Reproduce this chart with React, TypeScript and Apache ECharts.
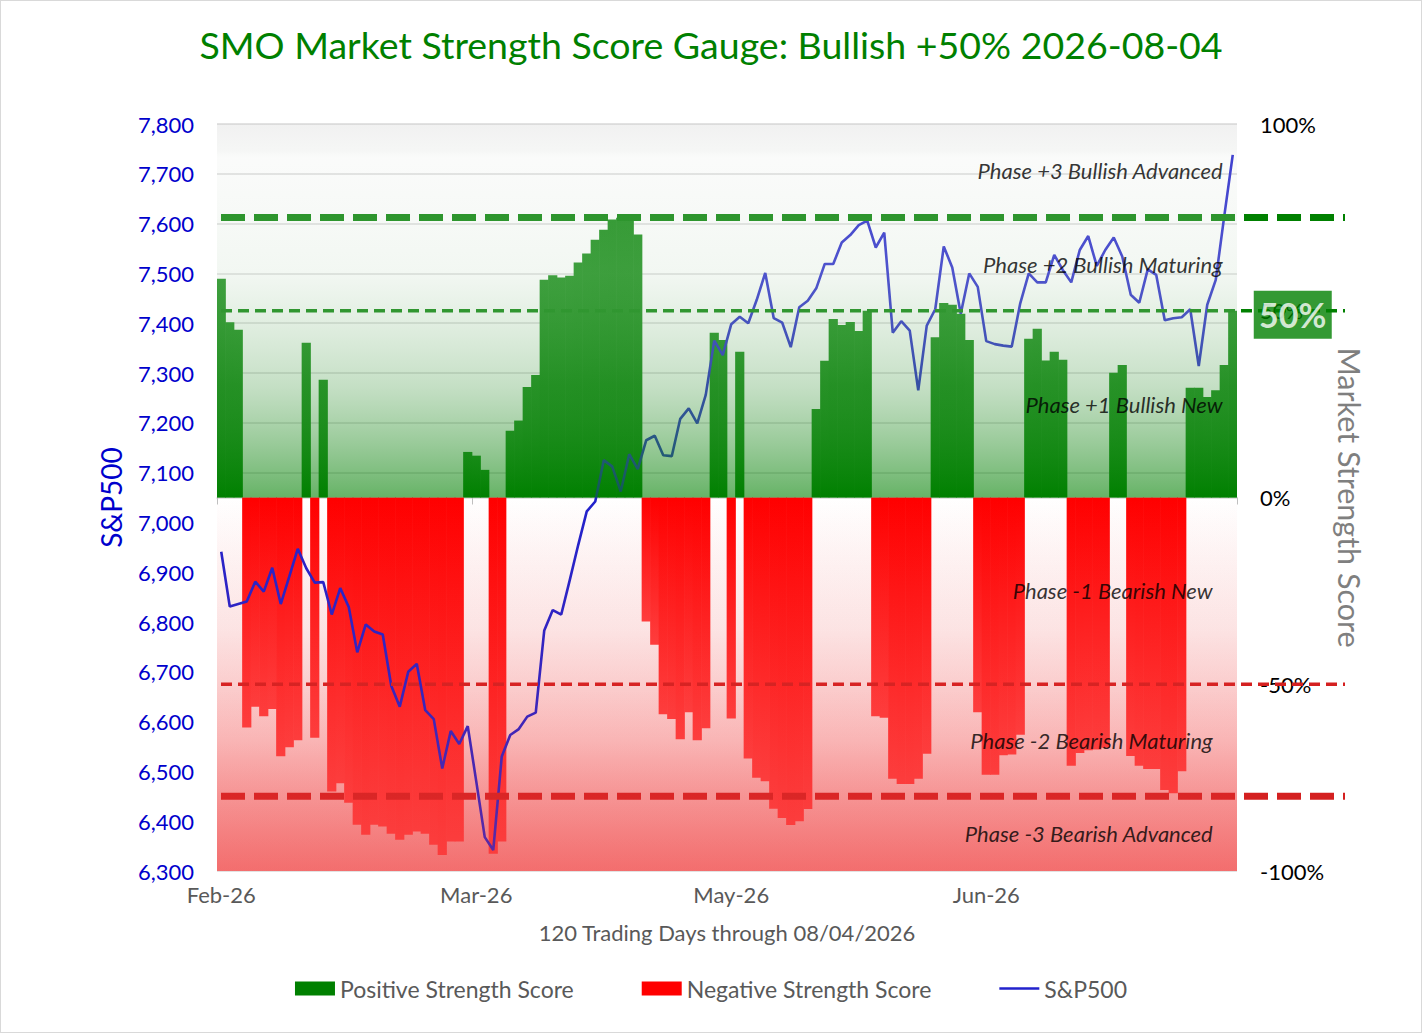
import { useEffect, useRef } from 'react'
import * as echarts from 'echarts'

// x axis: 120 trading days, a month label every 30th day
const monthLabels = ['Feb-26', 'Mar-26', 'May-26', 'Jun-26']
const labelEvery = 30

// Market strength score, % (positive = bullish, negative = bearish)
const strengthScores = [
  58.6, 46.9, 44.9, -61.6, -56, -58.6, -56.6, -69.3, -66.9, -65,
  41.4, -64.3, 31.5, -78.7, -76.5, -81.7, -87.6, -90.3, -87.6, -88.1,
  -90, -91.6, -90.3, -89.4, -90, -93, -95.7, -92.1, -92.1, 12.2,
  11.2, 7.4, -95.4, -92.1, 17.9, 20.6, 29.6, 32.8, 58.3, 59.5,
  58.9, 59.4, 62.9, 65.3, 69, 71.7, 74.4, 74.9, 74.4, 70.4,
  -33.2, -39.4, -58, -59.3, -64.7, -57.5, -65, -61.8, 44.1, 42.2,
  -59.2, 39, -69.9, -75, -76, -83.3, -85.8, -87.7, -86.7, -83.4,
  23.7, 36.6, 47.8, 46.2, 47, 44.6, 50, -58.6, -59, -75.3,
  -76.7, -76.7, -75.3, -68.6, 42.9, 52.1, 51.6, 49.2, 42.2, -57.5,
  -74.2, -74.2, -69, -68.8, -63.5, 42.5, 45.2, 36.7, 39, 36.9,
  -71.8, -68.4, -67.7, -67.5, -67, 33.4, 35.5, -69.2, -71.8, -72.7,
  -72.7, -78.3, -79.2, -73.3, 29.4, 29.4, 26.9, 28.7, 35.5, 50,
]

// S&P500 close
const sp500 = [
  6941, 6831, 6836, 6841, 6881, 6861, 6909, 6836, 6891, 6947,
  6908, 6879, 6880, 6815, 6868, 6830, 6739, 6795, 6781, 6775,
  6672, 6630, 6700, 6716, 6623, 6605, 6506, 6581, 6555, 6591,
  6480, 6368, 6342, 6530, 6573, 6585, 6610, 6618, 6783, 6824,
  6815, 6884, 6955, 7022, 7042, 7125, 7112, 7062, 7137, 7107,
  7165, 7174, 7135, 7133, 7208, 7229, 7199, 7256, 7365, 7336,
  7398, 7413, 7400, 7447, 7501, 7410, 7401, 7352, 7432, 7445,
  7470, 7519, 7519, 7562, 7577, 7597, 7606, 7552, 7582, 7381,
  7404, 7385, 7265, 7395, 7428, 7554, 7512, 7419, 7500, 7473,
  7364, 7358, 7355, 7353, 7440, 7500, 7482, 7482, 7537, 7507,
  7482, 7547, 7575, 7515, 7547, 7572, 7534, 7457, 7441, 7508,
  7497, 7406, 7410, 7412, 7428, 7314, 7437, 7487, 7615, 7738,
]

const categories = strengthScores.map((_, i) =>
  i % labelEvery === 0 ? monthLabels[i / labelEvery] : `Day ${i + 1}`
)

// phase boundaries (%), thick = outer boundary
const thresholdLevels = [75, 50, -50, -80]
const thresholdThick = [true, false, false, true]

const phaseNames = [
  'Phase +3 Bullish Advanced',
  'Phase +2 Bullish Maturing',
  'Phase +1 Bullish New',
  'Phase -1 Bearish New',
  'Phase -2 Bearish Maturing',
  'Phase -3 Bearish Advanced',
]
const phaseLevels = [87.5, 62.5, 25, -25, -65, -90]

const FONT = 'Lato, "Open Sans", "Noto Sans", sans-serif'
const lastIndex = strengthScores.length - 1
const lastScore = strengthScores[lastIndex]

export default function App() {
  const chartRef = useRef<HTMLDivElement>(null)

  useEffect(() => {
    document.body.style.margin = '0'
    document.documentElement.style.overflow = 'hidden'
    if (!chartRef.current) return

    const chart = echarts.init(chartRef.current, null, { renderer: 'svg' })

    const positive = strengthScores.map((v) => (v > 0 ? v : null))
    const negative = strengthScores.map((v) => (v < 0 ? v : null))

    const greenBar = new echarts.graphic.LinearGradient(0, 0, 0, 1, [
      { offset: 0, color: '#0c880c' },
      { offset: 1, color: '#008000' },
    ])
    const redBar = new echarts.graphic.LinearGradient(0, 0, 0, 1, [
      { offset: 0, color: '#ff0000' },
      { offset: 1, color: '#ff3d3d' },
    ])

    const option: Record<string, any> = {
      animation: false,
      backgroundColor: '#ffffff',
      textStyle: { fontFamily: FONT },
      title: {
        text: `SMO Market Strength Score Gauge: Bullish +${lastScore}% 2026-08-04`,
        left: 'center',
        top: 19,
        textStyle: { color: '#008000', fontSize: 37.5, fontWeight: 'normal', fontFamily: FONT },
      },
      legend: {
        top: 971,
        left: 'center',
        itemWidth: 40,
        itemHeight: 14,
        itemGap: 68,
        textStyle: { color: '#595959', fontSize: 23, fontFamily: FONT },
        data: [
          { name: 'Positive Strength Score', icon: 'rect', itemStyle: { color: '#008000' } },
          { name: 'Negative Strength Score', icon: 'rect', itemStyle: { color: '#ff0000' } },
          { name: 'S&P500', icon: 'path://M0,0 L40,0 L40,2.6 L0,2.6 Z' },
        ],
      },
      grid: [
        { left: 216, right: 184, top: 123, bottom: 161 },
        { left: 220, right: 76, top: 123, bottom: 161 },
      ],
      xAxis: [
        {
          type: 'category',
          data: categories,
          boundaryGap: true,
          axisLine: { lineStyle: { color: '#d9d9d9', width: 1.5 } },
          axisTick: { show: true, interval: labelEvery - 1, length: 7, lineStyle: { color: '#bfbfbf' } },
          axisLabel: { interval: labelEvery - 1, color: '#595959', fontSize: 22, margin: 12, fontFamily: FONT },
          name: '120 Trading Days through 08/04/2026',
          nameLocation: 'middle',
          nameGap: 50,
          nameTextStyle: { color: '#595959', fontSize: 22, fontFamily: FONT },
        },
        { gridIndex: 1, type: 'value', min: 0, max: 1, show: false },
      ],
      yAxis: [
        {
          type: 'value',
          position: 'left',
          min: 6300,
          max: 7800,
          interval: 100,
          axisLine: { show: false },
          axisTick: { show: false },
          splitLine: { lineStyle: { color: '#d9d9d9', width: 1.5 } },
          axisLabel: {
            color: '#0000cc',
            fontSize: 22,
            margin: 23,
            fontFamily: FONT,
            formatter: (v: number) => v.toLocaleString('en-US'),
          },
          name: 'S&P500',
          nameLocation: 'middle',
          nameGap: 92,
          nameTextStyle: { color: '#0000cc', fontSize: 28, fontFamily: FONT },
        },
        {
          type: 'value',
          position: 'right',
          min: -100,
          max: 100,
          interval: 50,
          axisLine: { show: false },
          axisTick: { show: false },
          splitLine: { show: false },
          axisLabel: {
            color: '#000000',
            fontSize: 22,
            margin: 23,
            fontFamily: FONT,
            formatter: (v: number) => `${v}%`,
          },
          name: 'Market Strength Score',
          nameLocation: 'middle',
          nameRotate: -90,
          nameGap: 97,
          nameTextStyle: { color: '#7f7f7f', fontSize: 30.5, fontFamily: FONT },
        },
        { gridIndex: 1, type: 'value', min: -100, max: 100, show: false },
      ],
      series: [
        {
          // pink backdrop of the bearish half
          type: 'custom',
          yAxisIndex: 1,
          silent: true,
          z: 0,
          data: [[0, 0]],
          renderItem: (params: any, api: any) => {
            const cs = params.coordSys
            const zeroY = api.coord([0, 0])[1]
            return {
              type: 'rect',
              shape: { x: cs.x, y: zeroY, width: cs.width, height: cs.y + cs.height - zeroY },
              style: {
                fill: new echarts.graphic.LinearGradient(0, 0, 0, 1, [
                  { offset: 0, color: '#ffffff' },
                  { offset: 0.35, color: '#fdf0f0' },
                  { offset: 0.65, color: '#fbcccc' },
                  { offset: 1, color: '#f48383' },
                ]),
              },
            }
          },
        },
        {
          name: 'Positive Strength Score',
          type: 'bar',
          yAxisIndex: 1,
          stack: 'score',
          barWidth: 9.2,
          itemStyle: { color: greenBar },
          data: positive,
          z: 2,
        },
        {
          name: 'Negative Strength Score',
          type: 'bar',
          yAxisIndex: 1,
          stack: 'score',
          barWidth: 9.2,
          itemStyle: { color: redBar },
          data: negative,
          z: 2,
        },
        {
          name: 'S&P500',
          type: 'line',
          yAxisIndex: 0,
          data: sp500,
          symbol: 'none',
          color: '#2222cc',
          lineStyle: { color: '#2222cc', width: 2.6 },
          z: 3,
        },
        ...thresholdLevels.map((lvl, i) => ({
          type: 'line',
          xAxisIndex: 1,
          yAxisIndex: 2,
          silent: true,
          symbol: 'none',
          z: 3,
          data: [
            [0, lvl],
            [1, lvl],
          ],
          lineStyle: {
            color: lvl > 0 ? '#008000' : '#d42020',
            width: thresholdThick[i] ? 7 : 3.5,
            type: thresholdThick[i] ? [24, 9] : [11, 6],
          },
        })),
        {
          // tinted glass over the plot: green toward zero above, red toward the floor below
          type: 'custom',
          yAxisIndex: 1,
          silent: true,
          z: 4,
          data: [[0, 0]],
          renderItem: (params: any, api: any) => {
            const cs = params.coordSys
            const zeroY = api.coord([0, 0])[1]
            return {
              type: 'group',
              children: [
                {
                  type: 'rect',
                  shape: { x: cs.x, y: cs.y, width: cs.width, height: zeroY - cs.y },
                  style: {
                    fill: new echarts.graphic.LinearGradient(0, 0, 0, 1, [
                      { offset: 0, color: 'rgba(200,200,200,0.26)' },
                      { offset: 0.07, color: 'rgba(210,215,210,0.22)' },
                      { offset: 0.09, color: 'rgba(225,230,225,0.16)' },
                      { offset: 0.4, color: 'rgba(205,225,205,0.26)' },
                      { offset: 0.7, color: 'rgba(90,165,90,0.35)' },
                      { offset: 1, color: 'rgba(0,128,0,0.6)' },
                    ]),
                  },
                },
                {
                  type: 'rect',
                  shape: { x: cs.x, y: zeroY, width: cs.width, height: cs.y + cs.height - zeroY },
                  style: {
                    fill: new echarts.graphic.LinearGradient(0, 0, 0, 1, [
                      { offset: 0, color: 'rgba(240,60,60,0)' },
                      { offset: 0.5, color: 'rgba(240,60,60,0.1)' },
                      { offset: 1, color: 'rgba(240,60,60,0.3)' },
                    ]),
                  },
                },
              ],
            }
          },
        },
        {
          type: 'scatter',
          yAxisIndex: 1,
          silent: true,
          symbolSize: 0,
          z: 6,
          data: phaseLevels.map((lvl, i) => ({
            name: phaseNames[i],
            value: [lastIndex, lvl],
            label: { distance: lvl > 0 ? 10 : 20 },
          })),
          label: {
            show: true,
            position: 'left',
            formatter: (p: any) => p.name,
            color: '#000000',
            fontSize: 22,
            fontStyle: 'italic',
            fontFamily: FONT,
          },
        },
        {
          // current score badge beside the right axis
          type: 'scatter',
          yAxisIndex: 1,
          silent: true,
          z: 7,
          symbol: 'rect',
          symbolSize: [78, 48],
          symbolOffset: [60, 4],
          itemStyle: { color: '#008000' },
          data: [[lastIndex, lastScore]],
          label: {
            show: true,
            position: 'inside',
            formatter: `${lastScore}%`,
            color: '#ffffff',
            fontSize: 34,
            fontWeight: 'bold',
            fontFamily: FONT,
          },
        },
      ],
    }

    chart.setOption(option)

    return () => {
      chart.dispose()
    }
  }, [])

  return (
    <div
      style={{
        width: 1422,
        height: 1033,
        boxSizing: 'border-box',
        border: '1px solid #d9d9d9',
        background: '#ffffff',
      }}
    >
      <div ref={chartRef} style={{ width: 1420, height: 1031 }} />
    </div>
  )
}
